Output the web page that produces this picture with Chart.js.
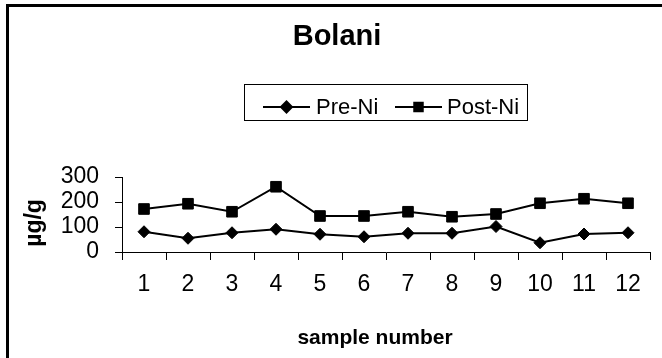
<!DOCTYPE html>
<html>
<head>
<meta charset="utf-8">
<title>Bolani</title>
<script src="https://cdn.jsdelivr.net/npm/chart.js@4/dist/chart.umd.min.js"></script>
<style>
  html, body { margin: 0; padding: 0; background: #fff; }
  #wrap { position: relative; width: 662px; height: 358px; }
</style>
</head>
<body>
<div id="wrap"><canvas id="chart" width="662" height="358"></canvas></div>
<script>
"use strict";

/* ─── Data ─────────────────────────────────────────────────── */

const SAMPLES = ["1", "2", "3", "4", "5", "6", "7", "8", "9", "10", "11", "12"];
const PRE_NI = [81, 55, 77, 91, 71, 61, 75, 75, 102, 37, 72, 77];
const POST_NI = [172, 193, 161, 261, 144, 144, 161, 141, 152, 195, 213, 195];
const SERIES_NAMES = ["Pre-Ni", "Post-Ni"];
const CHART_TITLE = "Bolani";
const X_TITLE = "sample number";
const Y_TITLE = "µg/g";

/* ─── Style ────────────────────────────────────────────────── */

const FONT = "'Liberation Sans', Arial, sans-serif";
const INK = "#000";

/*
 * Draws the outer frame, the titles and the boxed legend.
 * The titles sit off-centre in the original, so they are placed by hand.
 */
const frameLegend = {
  id: "frameLegend",
  afterDraw: function (chart) {
    const ctx = chart.ctx;
    ctx.save();

    /* outer frame: only top and left edges are visible */
    ctx.fillStyle = INK;
    ctx.fillRect(6, 4, 656, 3);
    ctx.fillRect(6, 4, 3, 354);

    ctx.textAlign = "center";
    ctx.textBaseline = "middle";

    /* chart title */
    ctx.font = "bold 29px " + FONT;
    ctx.fillText(CHART_TITLE, 337, 37);

    /* x axis title */
    ctx.font = "bold 21px " + FONT;
    ctx.fillText(X_TITLE, 375, 338);

    /* y axis title, rotated */
    ctx.save();
    ctx.translate(35, 223);
    ctx.rotate(-Math.PI / 2);
    ctx.font = "bold 23px " + FONT;
    ctx.fillText(Y_TITLE, 0, 0);
    ctx.restore();

    /* legend box */
    ctx.strokeStyle = INK;
    ctx.lineWidth = 1;
    ctx.strokeRect(244.5, 84.5, 283, 36);

    const items = [
      { x: 263, textX: 316 },
      { x: 395, textX: 447 },
    ];
    const y = 107;
    ctx.font = "22px " + FONT;
    ctx.textAlign = "left";
    chart.data.datasets.forEach(function (ds, i) {
      const it = items[i];
      ctx.strokeStyle = INK;
      ctx.lineWidth = 2;
      ctx.beginPath();
      ctx.moveTo(it.x, y);
      ctx.lineTo(it.x + 47, y);
      ctx.stroke();
      ctx.fillStyle = INK;
      Chart.helpers.drawPoint(ctx, {
        pointStyle: ds.pointStyle,
        radius: i === 0 ? 5.5 : 6,
        borderWidth: 1,
        rotation: 0,
      }, it.x + 23.5, y);
      ctx.fillStyle = INK;
      ctx.fillText(SERIES_NAMES[i], it.textX, y + 1);
    });

    ctx.restore();
  },
};

/* ─── Chart ────────────────────────────────────────────────── */

new Chart(document.getElementById("chart"), {
  type: "line",
  data: {
    labels: SAMPLES,
    datasets: [
      {
        label: SERIES_NAMES[0],
        data: PRE_NI,
        borderColor: INK,
        backgroundColor: INK,
        borderWidth: 2,
        pointStyle: "rectRot",
        pointRadius: 6,
        pointBorderWidth: 1,
        tension: 0,
      },
      {
        label: SERIES_NAMES[1],
        data: POST_NI,
        borderColor: INK,
        backgroundColor: INK,
        borderWidth: 2,
        pointStyle: "rect",
        pointRadius: 7.5,
        pointBorderWidth: 1,
        tension: 0,
      },
    ],
  },
  options: {
    responsive: false,
    animation: false,
    /* top padding leaves room for the title and legend drawn by the plugin */
    layout: { padding: { top: 177, right: 12, bottom: 0, left: 0 } },
    plugins: {
      legend: { display: false },
      tooltip: { enabled: false },
      title: { display: false },
    },
    scales: {
      x: {
        offset: true,
        grid: {
          offset: true,
          drawOnChartArea: false,
          drawTicks: true,
          tickLength: 8,
          color: INK,
        },
        border: { color: INK, width: 1 },
        ticks: {
          color: INK,
          font: { family: FONT, size: 23 },
          padding: 11,
          maxRotation: 0,
          autoSkip: false,
        },
        afterFit: function (scale) {
          scale.height = 106;
        },
      },
      y: {
        min: 0,
        max: 300,
        grid: {
          drawOnChartArea: false,
          drawTicks: true,
          tickLength: 7,
          color: INK,
        },
        border: { color: INK, width: 1 },
        ticks: {
          stepSize: 100,
          autoSkip: false,
          color: INK,
          font: { family: FONT, size: 23 },
          padding: 16,
        },
        afterFit: function (scale) {
          scale.width = 122;
        },
      },
    },
  },
  plugins: [frameLegend],
});
</script>
</body>
</html>
